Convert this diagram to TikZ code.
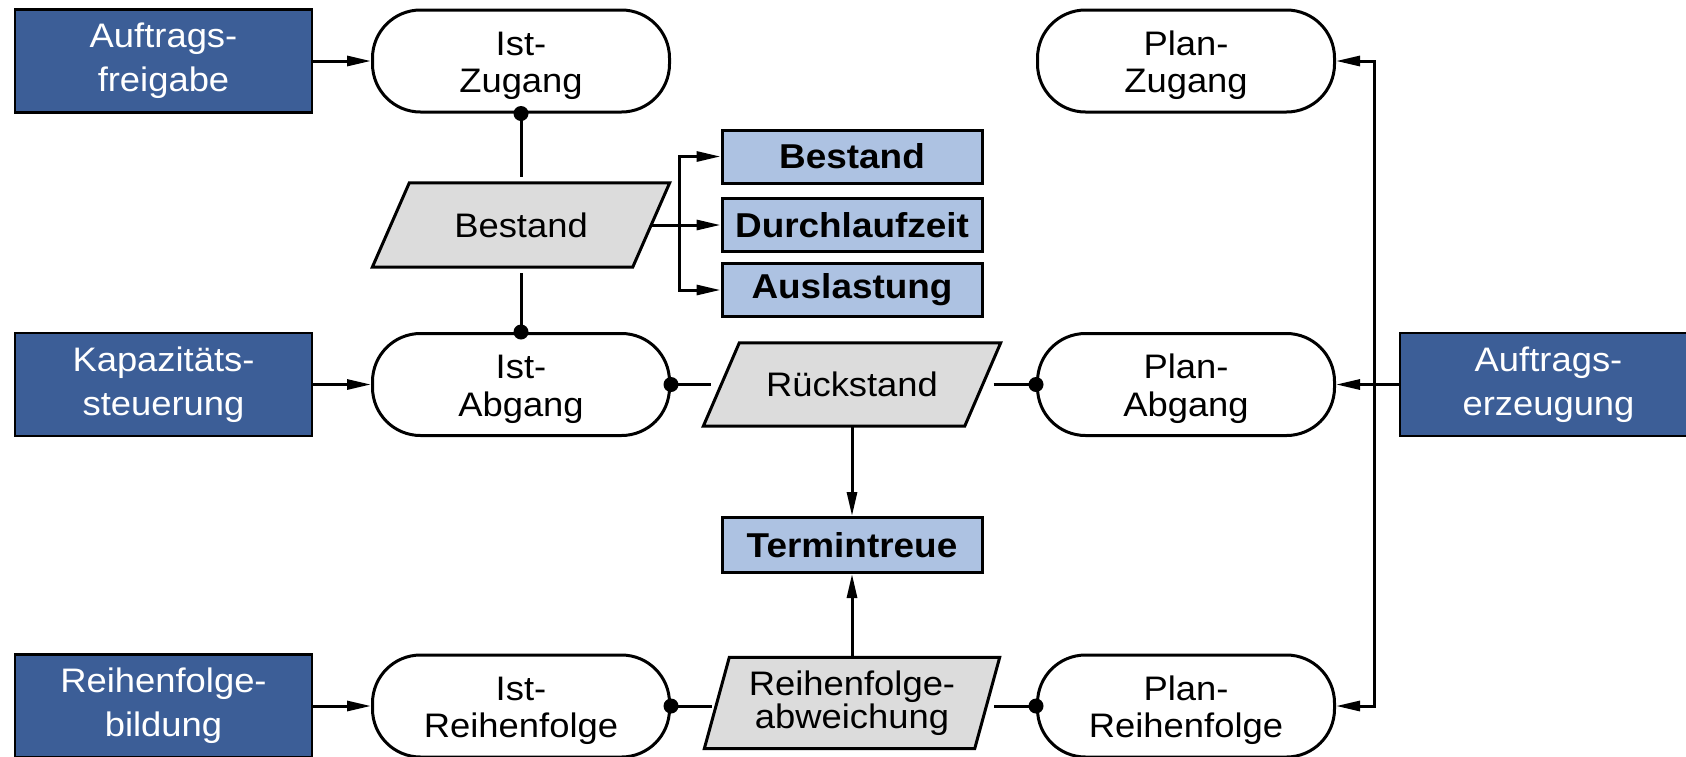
\documentclass[tikz,border=0pt]{standalone}
\usepackage{fontspec}
\setmainfont[FakeStretch=1.07]{Liberation Sans}
\usetikzlibrary{arrows.meta}
\definecolor{ctrlblue}{RGB}{60,94,151}
\definecolor{kpiblue}{RGB}{173,194,226}
\definecolor{paragray}{RGB}{220,220,220}
\pgfdeclarelayer{background}
\pgfsetlayers{background,main}
\newcommand\drawpara[2]{%
  \begin{pgfonlayer}{background}
  \draw[line width=3pt, fill=paragray, line join=miter]
    (#1.south west) -- ([xshift=-#2pt]#1.south east) -- (#1.north east)
    -- ([xshift=#2pt]#1.north west) -- cycle;
  \end{pgfonlayer}}
\newcommand\tup{\rule{0pt}{33pt}}
\begin{document}
\begin{tikzpicture}[x=1pt,y=-1pt,
  ctrl/.style={draw=black, line width=2.5pt, fill=ctrlblue, text=white,
    minimum width=297pt, minimum height=103pt, inner sep=0pt, align=center,
    font=\fontsize{34}{44}\selectfont},
  oval/.style={draw=black, line width=3pt, fill=white, rounded corners=48pt,
    minimum width=297pt, minimum height=102pt, inner sep=0pt, align=center,
    font=\fontsize{34}{37.5}\selectfont},
  kpi/.style={draw=black, line width=3pt, fill=kpiblue, minimum width=260pt,
    minimum height=53pt, inner sep=0pt, font=\bfseries\fontsize{34.5}{38}\selectfont},
  para/.style={inner sep=0pt, align=center, font=\fontsize{34}{30}\selectfont},
  conn/.style={line width=3pt},
  arr/.style={line width=3pt, -{Triangle[length=24pt,width=10pt]}},
  dot/.style={fill=black}
]
\useasboundingbox (0,0) rectangle (1686,756);

% control boxes
\node[ctrl] (af) at (163.5,61) {Auftrags-\\freigabe};
\node[ctrl] (ks) at (163.5,384.5) {Kapazitäts-\\steuerung};
\node[ctrl] (rb) at (163.5,706) {Reihenfolge-\\bildung};
\node[ctrl] (ae) at (1548.5,384.5) {Auftrags-\\erzeugung};

% ovals
\node[oval] (iz) at (521,61) {\tup Ist-\\Zugang};
\node[oval] (ia) at (521,384.5) {\tup Ist-\\Abgang};
\node[oval] (ir) at (521,706) {\tup Ist-\\Reihenfolge};
\node[oval] (pz) at (1186,61) {\tup Plan-\\Zugang};
\node[oval] (pa) at (1186,384.5) {\tup Plan-\\Abgang};
\node[oval] (pr) at (1186,706) {\tup Plan-\\Reihenfolge};

% parallelograms
\node[para, minimum width=297pt, minimum height=84pt] (bs) at (521,225) {Bestand};
\drawpara{bs}{37}
\node[para, minimum width=297pt, minimum height=83pt] (rs) at (852,384.5) {Rückstand};
\drawpara{rs}{36}
\node[para, minimum width=295pt, minimum height=91pt] (rw) at (852,703) {Reihenfolge-\\abweichung};
\drawpara{rw}{25}

% KPI boxes
\node[kpi] (kb) at (852,156.5) {Bestand};
\node[kpi] (kd) at (852,225) {Durchlaufzeit};
\node[kpi] (ka) at (852,290) {Auslastung};
\node[kpi, minimum height=55pt] (kt) at (852,545) {Termintreue};

% control arrows
\draw[arr] (af.east) -- (iz.west);
\draw[arr] (ks.east) -- (ia.west);
\draw[arr] (rb.east) -- (ir.west);
\draw[arr] (ae.west) -- (pa.east);
\coordinate (jx) at (1374,384.5);
\draw[arr] (jx) |- (pz.east);
\draw[arr] (jx) |- (pr.east);

% Bestand links
\draw[conn, shorten >=6pt] (iz.south) -- (bs.north);
\draw[conn, shorten <=6pt] (bs.south) -- (ia.north);
\fill[dot] (iz.south) circle[radius=7.5pt];
\fill[dot] (ia.north) circle[radius=7.5pt];
\coordinate (bj) at (679,225);
\draw[conn] ([xshift=-18.5pt]bs.east) -- (bj);
\draw[arr] (bj) |- (kb.west);
\draw[arr] (bj) -- (kd.west);
\draw[arr] (bj) |- (ka.west);

% Rueckstand links
\coordinate (rsl) at ([xshift=18pt]rs.west);
\coordinate (rsr) at ([xshift=-18pt]rs.east);
\draw[conn, shorten >=10pt] (ia.east) -- (rsl);
\draw[conn, shorten <=11pt] (rsr) -- (pa.west);
\fill[dot] (ia.east) circle[radius=7.5pt];
\fill[dot] (pa.west) circle[radius=7.5pt];
\draw[arr] (rs.south) -- (kt.north);

% Reihenfolge links
\coordinate (rwl) at ([xshift=12.5pt]rw.west);
\coordinate (rwr) at ([xshift=-12.5pt]rw.east);
\draw[conn, shorten >=5pt] (ir.east) -- (ir.east -| rwl);
\draw[conn, shorten <=7pt] (pr.west -| rwr) -- (pr.west);
\fill[dot] (ir.east) circle[radius=7.5pt];
\fill[dot] (pr.west) circle[radius=7.5pt];
\draw[arr] (rw.north) -- (kt.south);
\end{tikzpicture}
\end{document}
